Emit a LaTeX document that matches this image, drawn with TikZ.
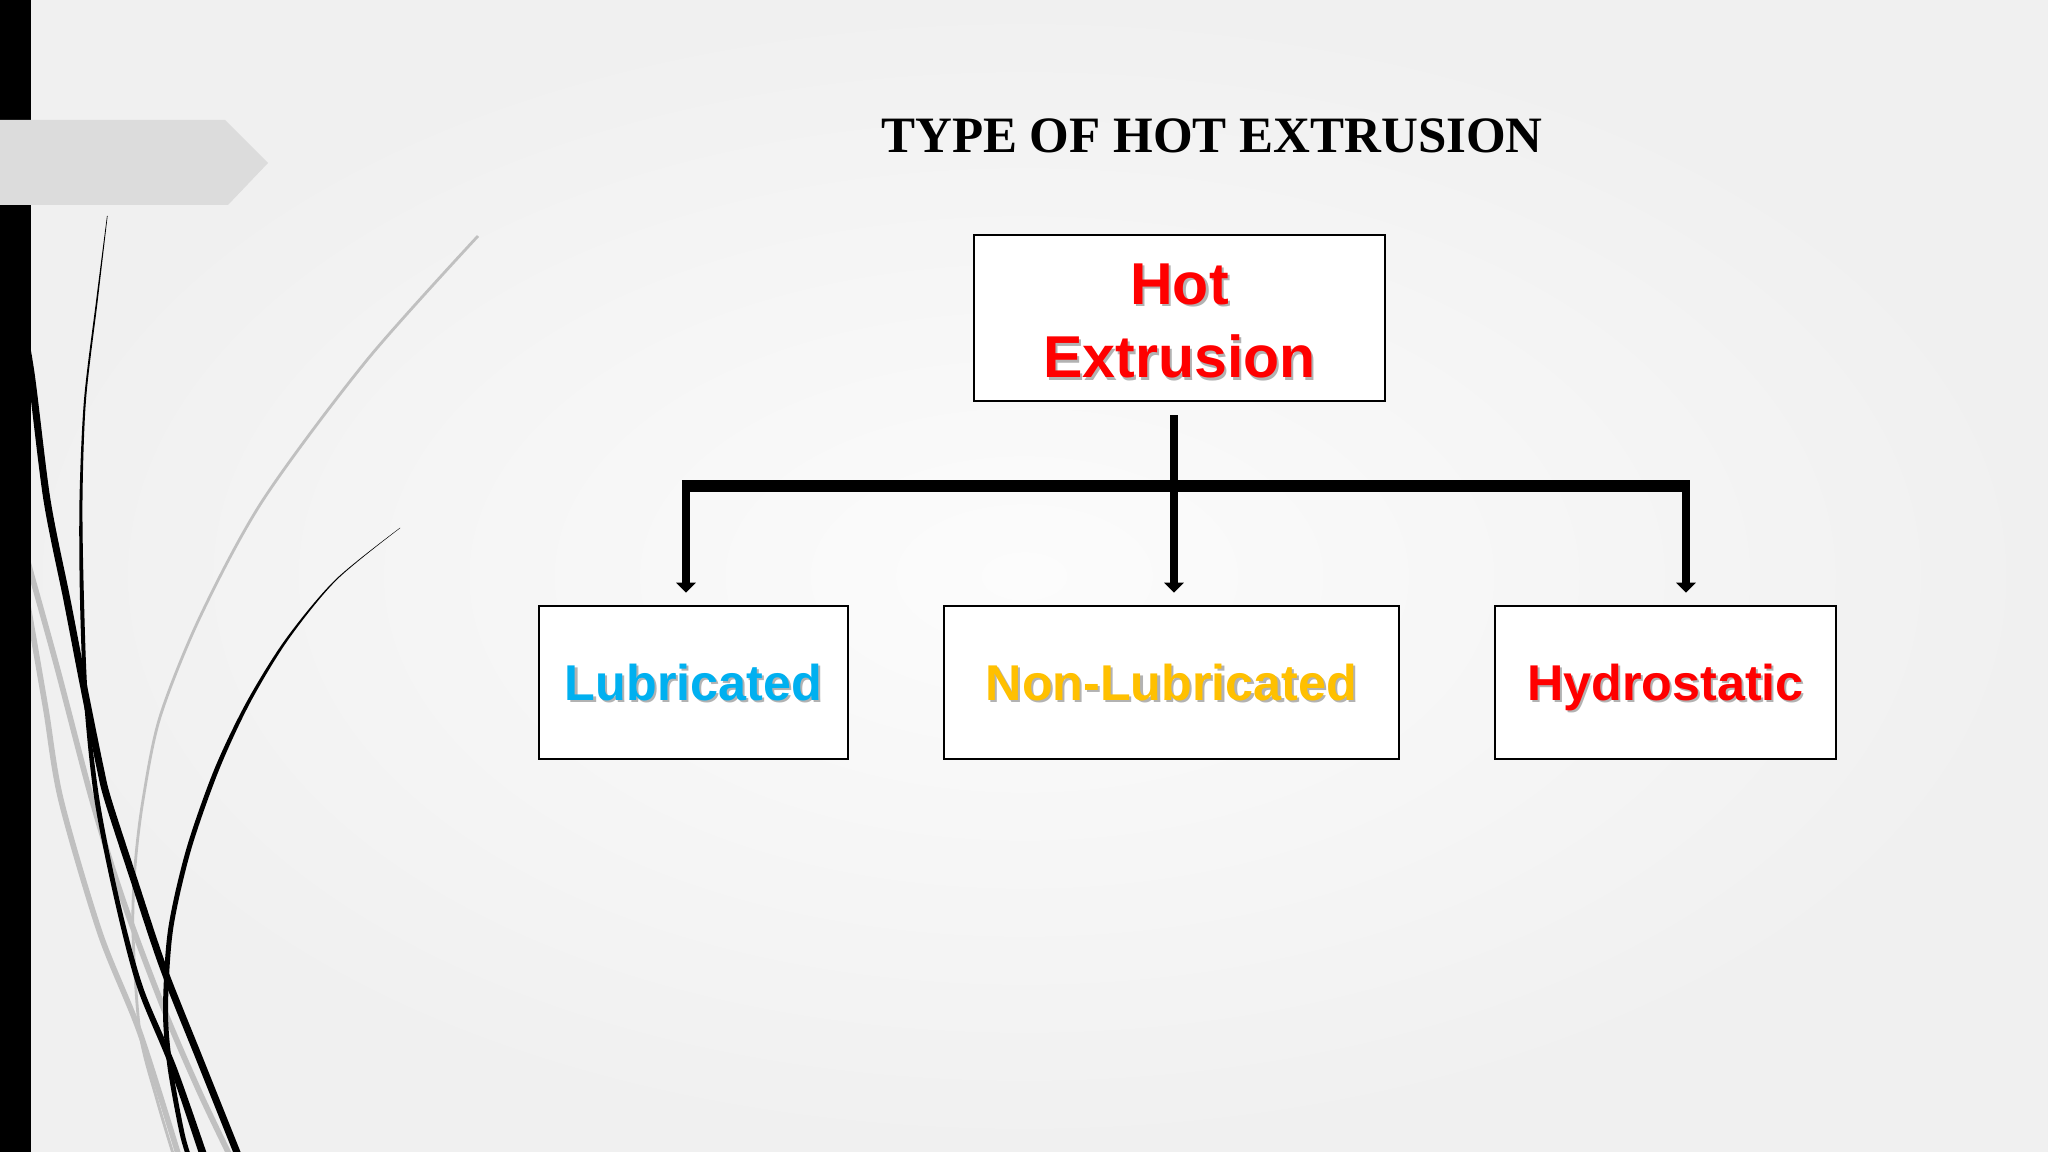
\documentclass[tikz,border=0pt]{standalone}
\usepackage{fontspec}
\setmainfont{Liberation Serif}
\newfontfamily\lsans{Liberation Sans}
\usetikzlibrary{arrows.meta}
\definecolor{bgin}{RGB}{252,252,252}
\definecolor{bgout}{RGB}{240,240,240}
\definecolor{bannergray}{RGB}{220,220,220}
\definecolor{curvegray}{RGB}{192,192,192}
\definecolor{hotred}{RGB}{255,0,0}
\definecolor{lubblue}{RGB}{0,176,240}
\definecolor{nongold}{RGB}{255,192,0}
\definecolor{shadowgray}{RGB}{178,178,178}
\newcommand{\shtext}[2]{\makebox[0pt][l]{\hspace{0.6pt}\raisebox{-0.6pt}{\textcolor{shadowgray}{#2}}}\textcolor{#1}{#2}}
\begin{document}
\begin{tikzpicture}[x=0.01cm,y=-0.01cm,
  diagbox/.style={draw=black, line width=0.7pt, fill=white, inner sep=0pt},
  lbl/.style={font=\lsans\bfseries\fontsize{14.3}{17}\selectfont, text height=10.2pt, text depth=0pt},
  conn/.style={line width=2.3pt, -{Triangle[width=0.19cm,length=0.1cm]}, shorten >=0.12cm},
  bar/.style={line width=3.4pt},
  graycurve/.style={curvegray, line width=1.6pt},
]
\useasboundingbox (0,0) rectangle (2048,1152);
\shade[inner color=bgin, outer color=bgout] (0,0) rectangle (2048,1152);
\begin{scope}
\clip (0,0) rectangle (2048,1152);
% gray curves
\draw[graycurve] plot[smooth] coordinates {(22,540) (31,573) (57,667) (92,800) (123,900) (163,1007) (200,1093) (232,1160)};
\draw[graycurve] plot[smooth] coordinates {(25,590) (31,623) (46,710) (61,800) (100,933) (140,1033) (180,1160)};
\draw[curvegray, line width=0.8pt] plot[smooth] coordinates {(478,236) (367,360) (263,500) (200,617) (160,717) (143,800) (135,867) (133,933) (140,1033) (157,1100) (175,1160)};
% black curves
\draw[black, line width=2pt] plot[smooth] coordinates {(18,300) (31,373) (47,500) (67,600) (83,683) (100,767) (108,800) (133,877) (163,967) (200,1060) (240,1160)};
\fill[black] plot[smooth] coordinates {(107,216) (96.2,300) (84,400) (79.5,500) (80,600) (84,700) (94.5,800) (114.5,900) (137,987) (169.5,1067) (201,1160)}
  -- plot[smooth] coordinates {(209,1160) (176.5,1067) (143,987) (119.5,900) (99.5,800) (88,700) (84,600) (82.5,500) (86,400) (97.8,300) (107.6,216)} -- cycle;
\fill[black] plot[smooth] coordinates {(399.7,528) (335,580) (285,640) (246,703) (214,770) (186,850) (168,930) (163,1010) (167.5,1067) (179.5,1133) (187.5,1160)}
  -- plot[smooth] coordinates {(192.5,1160) (184.5,1133) (172.5,1067) (168,1010) (173,930) (191,850) (219,770) (250,703) (288,640) (336.6,580) (400.3,528)} -- cycle;
% left bar and banner
\fill[black] (0,0) rectangle (31,1152);
\fill[bannergray] (0,120) -- (225,120) -- (268,163) -- (228,205) -- (0,205) -- cycle;
\end{scope}
% title
\node[font=\bfseries\fontsize{14.5}{17}\selectfont, inner sep=0pt] (title) at (1212,136) {TYPE OF HOT EXTRUSION};
% boxes
\node[diagbox, minimum width=4.11cm, minimum height=1.66cm] (hot) at (1179.5,318) {};
\node[align=center, inner sep=0pt,
  font=\lsans\bfseries\fontsize{16.8}{21}\selectfont] (hottext) at (1179.5,322)
  {\shtext{hotred}{Hot}\\\shtext{hotred}{Extrusion}};
\node[diagbox, lbl, minimum width=3.09cm, minimum height=1.53cm] (lub) at (693.5,682.5) {\shtext{lubblue}{Lubricated}};
\node[diagbox, lbl, minimum width=4.55cm, minimum height=1.53cm] (non) at (1171.5,682.5) {\shtext{nongold}{Non-Lubricated}};
\node[diagbox, lbl, minimum width=3.41cm, minimum height=1.53cm] (hyd) at (1665.5,682.5) {\shtext{hotred}{Hydrostatic}};
% connectors
\coordinate (jl) at (686,486);
\coordinate (jm) at (1174,486);
\coordinate (jr) at (1686,486);
\draw[bar] ([xshift=-1.15pt]jl) -- ([xshift=1.15pt]jr);
\draw[conn] (jl) -- (jl |- lub.north);
\draw[conn] (jr) -- (jr |- hyd.north);
\draw[conn, shorten <=0.13cm] (jm |- hot.south) -- (jm |- non.north);
\end{tikzpicture}
\end{document}
